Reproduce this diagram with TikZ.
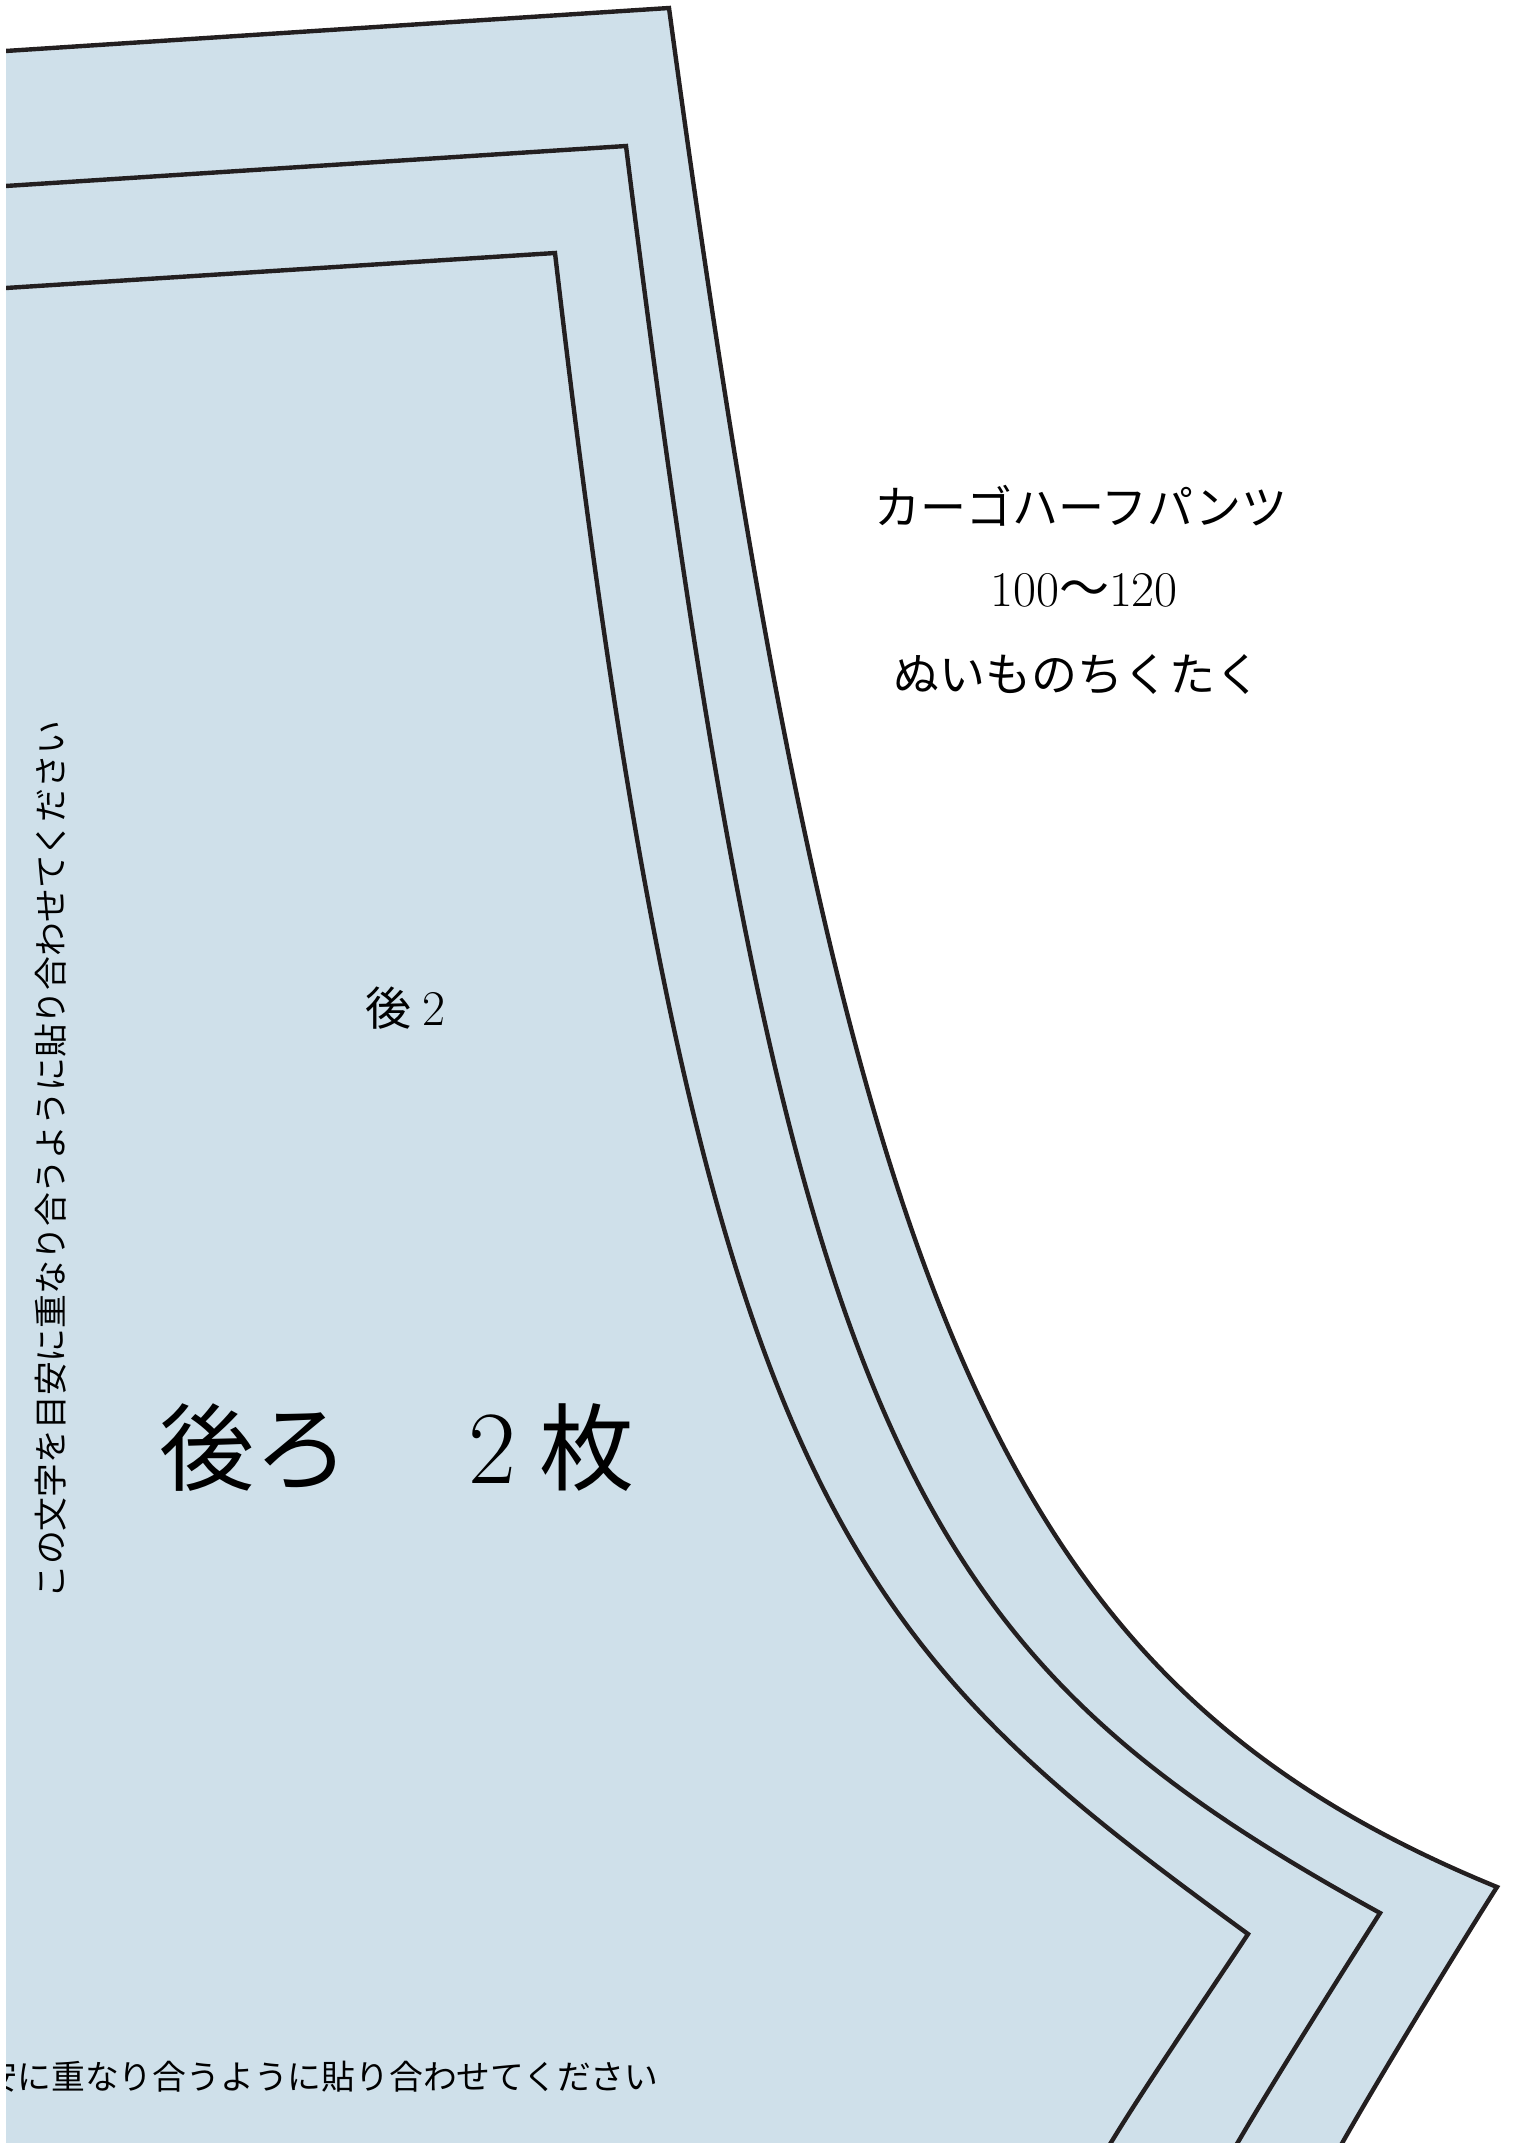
\documentclass[tikz,border=0pt]{standalone}
\usepackage{fontspec}
\newfontfamily\jp{Noto Sans CJK JP}
\newfontfamily\lmr{Latin Modern Roman}
\definecolor{patfill}{RGB}{207,224,234}
\definecolor{patline}{RGB}{35,31,32}
\begin{document}
\begin{tikzpicture}[x=0.5pt,y=-0.5pt,
  cutline/.style={draw=patline, line width=2.2pt, line join=miter},
  midtext/.style={font=\jp\fontsize{23pt}{28pt}\selectfont, inner sep=0pt, anchor=base},
  bigtext/.style={font=\jp\fontsize{47.5pt}{56pt}\selectfont, inner sep=0pt, anchor=base},
  guidetext/.style={font=\jp\fontsize{16.9pt}{20pt}\selectfont, inner sep=0pt}]
\useasboundingbox (0,0) rectangle (1516,2143);
\coordinate (oc) at (669,8);
\coordinate (ob) at (1497,1887);
\coordinate (mc) at (626,146);
\coordinate (mb) at (1380,1913);
\coordinate (ic) at (555,253);
\coordinate (ib) at (1248,1934);
\begin{scope}
\clip (6,0) rectangle (1516,2143);
% fill of the pattern piece
\fill[patfill] (-10,52) -- (oc) .. controls (845,1308) and (997,1682) .. (ob)
  .. controls (1465,1937) and (1365,2100) .. (1330,2165) -- (-10,2165) -- cycle;
% outer cutting line
\draw[cutline] (-10,52) -- (oc) .. controls (845,1308) and (997,1682) .. (ob)
  .. controls (1465,1937) and (1365,2100) .. (1330,2165);
% middle line
\draw[cutline] (-10,187) -- (mc) .. controls (788,1446) and (910,1654) .. (mb)
  .. controls (1350,1960) and (1255,2110) .. (1225,2165);
% inner line
\draw[cutline] (-10,289) -- (ic) .. controls (700,1503) and (848,1642) .. (ib)
  .. controls (1218,1980) and (1125,2115) .. (1098,2165);
% guide texts
\node[guidetext, rotate=90, anchor=base west] (vguide) at (63,1599) {この文字を目安に重なり合うように貼り合わせてください};
\node[guidetext, anchor=base east] (hguide) at (659,2089) {この文字を目安に重なり合うように貼り合わせてください};
\end{scope}
% labels
\node[midtext] (title) at (1081,524) {カーゴハーフパンツ};
\node[midtext, font=\jp\fontsize{25pt}{30pt}\selectfont] (size) at (1084,606) {{\lmr 100}〜{\lmr 120}};
\node[midtext] (author) at (1077,691) {ぬいものちくたく};
\node[midtext] (piece) at (411,1025) {後\makebox[23pt]{\lmr\fontsize{25pt}{30pt}\selectfont 2}};
\node[bigtext] (count) at (397,1483) {後ろ　\makebox[47.5pt]{\lmr\fontsize{52pt}{60pt}\selectfont 2}枚};
\end{tikzpicture}
\end{document}
